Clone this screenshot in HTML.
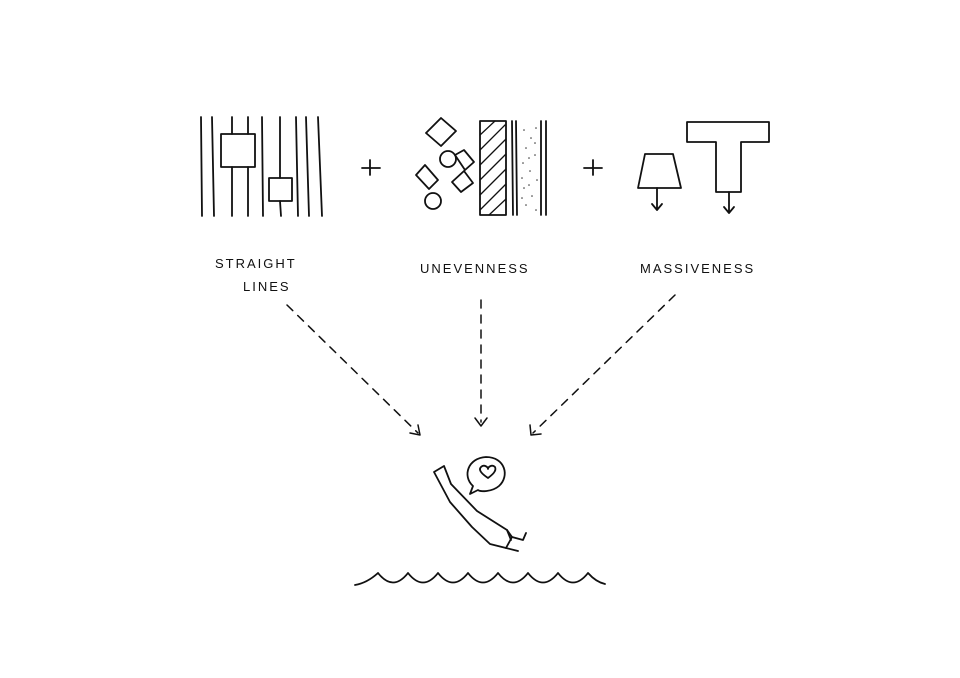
<!DOCTYPE html>
<html><head><style>body{margin:0;background:#fff}svg{display:block}text{font-family:"Liberation Sans",sans-serif;font-size:13px;letter-spacing:2px;fill:#111;stroke:none}</style></head>
<body>
<svg width="960" height="678" viewBox="0 0 960 678" fill="none" stroke="#111" stroke-width="1.8" stroke-linecap="round" stroke-linejoin="round">
<path d="M201 117L202 216M212 117L214 216M232 117L232 134M232 167L232 216M248 117L248 134M248 167L248 216M262 117L263 216M280 117L280 178M280 201L281 216M296 117L298 216M306 117L309 216M318 117L322 216"/>
<rect x="221" y="134" width="34" height="33"/>
<rect x="269" y="178" width="23" height="23"/>
<path d="M362 168L380 168M370 160L370 175"/>
<path d="M426 133L441 118L456 131L441 146Z"/>
<circle cx="448" cy="159" r="8"/>
<path d="M455 155L464 150L474 162L465 170Z"/>
<path d="M416 175L425 165L438 180L429 189Z"/>
<path d="M452 182L464 171L473 183L461 192Z"/>
<circle cx="433" cy="201" r="8"/>
<rect x="480" y="121" width="26" height="94"/>
<path d="M480 135L495 121M480 150L505 125M480 165L506 139M480 180L506 154M480 195L506 169M480 210L506 184M489 215L506 199" stroke-width="1.3"/>
<path d="M512 121L513 215M516 121L517 215M541 121L541 215M546 121L546 215"/>
<g fill="#333" stroke="none">
<circle cx="524" cy="130" r=".8"/><circle cx="531" cy="138" r=".8"/><circle cx="526" cy="148" r=".8"/><circle cx="535" cy="155" r=".8"/><circle cx="523" cy="163" r=".8"/><circle cx="530" cy="171" r=".8"/><circle cx="537" cy="180" r=".8"/><circle cx="524" cy="188" r=".8"/><circle cx="532" cy="196" r=".8"/><circle cx="526" cy="205" r=".8"/><circle cx="536" cy="210" r=".8"/><circle cx="536" cy="128" r=".8"/><circle cx="522" cy="178" r=".8"/><circle cx="535" cy="143" r=".8"/><circle cx="529" cy="158" r=".8"/><circle cx="529" cy="185" r=".8"/><circle cx="522" cy="198" r=".8"/>
</g>
<path d="M584 168L602 168M593 160L593 175"/>
<path d="M645 154L673 154L681 188L638 188Z"/>
<path d="M657 188L657 210M652 204L657 210L662 204"/>
<path d="M687 122L769 122L769 142L741 142L741 192L716 192L716 142L687 142Z"/>
<path d="M729 192L729 213M724 207L729 213L734 207"/>
<text x="215" y="268">STRAIGHT</text>
<text x="243" y="291">LINES</text>
<text x="420" y="273">UNEVENNESS</text>
<text x="640" y="273">MASSIVENESS</text>
<g stroke-dasharray="8 7" stroke-width="1.5">
<path d="M287 305L418 433"/>
<path d="M481 300L481 422"/>
<path d="M675 295L533 433"/>
</g>
<g stroke-width="1.5">
<path d="M410 433L420 435L418 425"/>
<path d="M475 418L481 426L487 418"/>
<path d="M530 425L531 435L541 434"/>
</g>
<path d="M434 472L444 466L451 484L477 511L507 530L512 537L506 548L490 544L472 527L450 502Z"/>
<path d="M507 530L511 540M512 537L523 540L526 533M506 548L518 551"/>
<path d="M473 486C462 476 468 458 486 457C505 457 510 476 499 486C492 492 480 492 478 490L470 494Z"/>
<path d="M488 478C482 474 478 470 481 467C484 464 488 467 488 469C488 467 492 464 495 467C497 471 492 475 488 478Z"/>
<path d="M355 585Q367 583 378 573Q393 592 408 573Q423 592 438 573Q453 592 468 573Q483 592 498 573Q513 592 528 573Q543 592 558 573Q573 592 588 573Q596 582 605 584"/>
</svg>
</body></html>
